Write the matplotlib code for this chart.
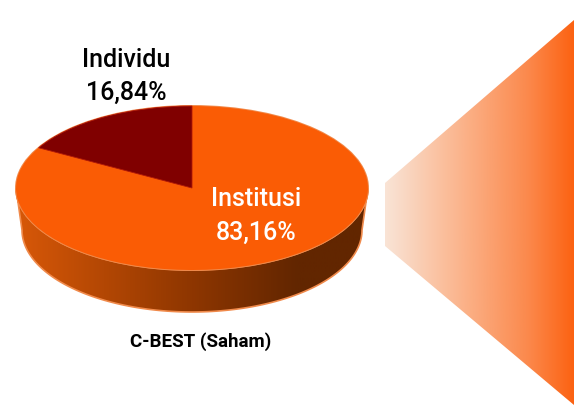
import numpy as np
from matplotlib import pyplot as plt
from matplotlib.colors import LinearSegmentedColormap
from matplotlib.patches import Ellipse, PathPatch, Polygon
from matplotlib.path import Path

W, H = 574, 413

labels = ["Institusi", "Individu"]
shares = [83.16, 16.84]
share_labels = ["83,16%", "16,84%"]
colors = ["#FA5C05", "#800000"]
caption = "C-BEST (Saham)"

CX, CY, RX, RY = 192, 188, 176, 82
LOW_RX, LOW_RY, LOW_CY = 170, 82, 230

plt.rcParams["font.family"] = ["Roboto", "DejaVu Sans"]

fig = plt.figure(figsize=(W / 100, H / 100), dpi=100)
ax = fig.add_axes([0, 0, 1, 1])
ax.set_xlim(0, W)
ax.set_ylim(H, 0)
ax.axis("off")


def gradient(ax, colours, extent, clip, zorder):
    cmap = LinearSegmentedColormap.from_list("g", colours)
    im = ax.imshow(
        np.linspace(0, 1, 256).reshape(1, -1),
        cmap=cmap,
        extent=extent,
        aspect="auto",
        zorder=zorder,
    )
    im.set_clip_path(clip)


# side of the disc, the lower rim is a bit narrower than the top
t = np.linspace(0, np.pi, 120)
top_edge = np.column_stack([CX + RX * np.cos(t), CY + RY * np.sin(t)])
low_edge = np.column_stack([CX + LOW_RX * np.cos(t), LOW_CY + LOW_RY * np.sin(t)])[::-1]
side = np.vstack([top_edge, low_edge])
side_patch = Polygon(side, closed=True, fc="none", ec="#F08A4B", lw=1.2, zorder=3)
ax.add_patch(side_patch)
gradient(
    ax,
    [(0, "#D85808"), (0.5, "#8E3600"), (0.8, "#622600"), (1, "#622600")],
    (CX - RX, CX + RX, H, 0),
    side_patch,
    2,
)

# top of the disc
ax.add_patch(Ellipse((CX, CY), 2 * RX, 2 * RY, fc="#FA5C05", ec="#F08A4B", lw=1.4, zorder=4))
pie_ax = fig.add_axes([(CX - RX) / W, 1 - (CY + RY) / H, 2 * RX / W, 2 * RY / H], zorder=5)
wedges, _ = pie_ax.pie(shares, colors=colors, startangle=90, counterclock=False, radius=1)
pie_ax.set_aspect("auto")
pie_ax.set_xlim(-1, 1)
pie_ax.set_ylim(-1, 1)
pie_ax.patch.set_alpha(0)
wedges[1].set_edgecolor("#B01808")
wedges[1].set_linewidth(0.6)

# fan on the right
fan = Path([(385, 183), (574, 20), (574, 405), (385, 246), (385, 183)], closed=True)
fan_patch = PathPatch(fan, fc="none", ec="none", zorder=1)
ax.add_patch(fan_patch)
gradient(
    ax,
    [(0, "#F9E4D6"), (0.4, "#FBB48C"), (0.75, "#FB8A4E"), (1, "#FC6212")],
    (385, 574, H, 0),
    fan_patch,
    1,
)

ax.set_xlim(0, W)
ax.set_ylim(H, 0)

text_ax = fig.add_axes([0, 0, 1, 1], zorder=6)
text_ax.set_xlim(0, W)
text_ax.set_ylim(H, 0)
text_ax.axis("off")
text_ax.text(126, 60, labels[1], fontsize=18, fontweight="medium", color="black", ha="center", va="center")
text_ax.text(126, 93, share_labels[1], fontsize=18, fontweight="medium", color="black", ha="center", va="center")
text_ax.text(256, 199, labels[0], fontsize=18, fontweight="medium", color="white", ha="center", va="center")
text_ax.text(256, 233, share_labels[0], fontsize=18, fontweight="medium", color="white", ha="center", va="center")
text_ax.text(201, 342, caption, fontsize=13.5, fontweight="bold", color="black", ha="center", va="center")

fig.savefig("out.png", dpi=100)
